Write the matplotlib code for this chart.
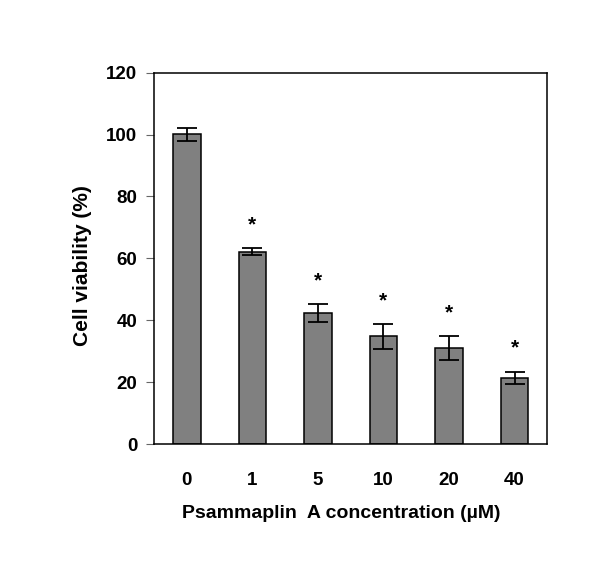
import numpy as np
import matplotlib
matplotlib.use("Agg")
import matplotlib.pyplot as plt

# Cell viability vs psammaplin A concentration
concentrations = ["0", "1", "5", "10", "20", "40"]
viability = [100.1, 62.2, 42.3, 34.8, 30.9, 21.4]
errors = [2.1, 1.1, 2.9, 4.0, 3.9, 2.0]
significant = [False, True, True, True, True, True]

plt.rcParams["font.family"] = ["Liberation Sans", "DejaVu Sans"]
plt.rcParams["font.weight"] = "bold"

fig = plt.figure(figsize=(6, 5.78), dpi=100)
ax = fig.add_axes([0.2567, 0.2318, 0.6555, 0.6424])

x = np.arange(len(concentrations))
ax.bar(x, viability, width=0.42, color="#808080", edgecolor="black", linewidth=1.1,
       yerr=errors, capsize=7.5, error_kw=dict(elinewidth=1.3, capthick=1.3, ecolor="black"))

# asterisks above the error bars
for i in range(len(x)):
	if significant[i]:
		ax.text(x[i], viability[i] + errors[i] + 4.5, "*", ha="center", va="bottom",
				fontsize=15, fontweight="bold")

ax.set_xlim(-0.5, len(x) - 0.5)
ax.set_ylim(0, 120)
ax.set_yticks(range(0, 121, 20))
ax.set_xticks(x)
ax.set_xticklabels(concentrations)
ax.tick_params(axis="x", length=0, pad=20, labelsize=13.5)
ax.tick_params(axis="y", length=5.5, width=0.8, color="#666666", pad=6.5, labelsize=13.5)
for s in ax.spines.values():
	s.set_linewidth(1.1)

ax.set_ylabel("Cell viability (%)", fontsize=15, fontweight="bold", labelpad=10)
ax.set_xlabel("Psammaplin  A concentration (\u00b5M)", fontsize=14, fontweight="bold", labelpad=12)
# labels sit a little off-centre in the original
ax.xaxis.label.set_x(0.477)
ax.yaxis.label.set_y(0.48)

fig.savefig("out.png", dpi=100)
